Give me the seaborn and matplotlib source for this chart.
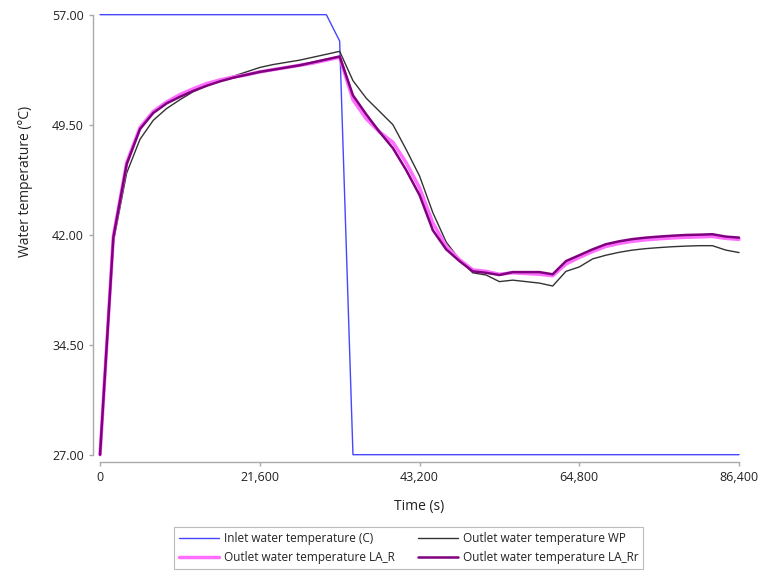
import numpy as np
import pandas as pd
import seaborn as sns
from matplotlib import pyplot as plt
from matplotlib.ticker import FuncFormatter

# time grid of the outlet series (s), one point every half hour
t_out = np.arange(0, 86401, 1800)

# inlet step
t_in = [0, 30600, 32400, 34200, 86400]
inlet = [57.0, 57.0, 55.2, 27.0, 27.0]

wp = [27.0, 41.5, 46.2, 48.5, 49.8, 50.6, 51.2, 51.75, 52.15, 52.5,
      52.8, 53.1, 53.4, 53.6, 53.75, 53.9, 54.1, 54.3, 54.5, 52.5,
      51.3, 50.4, 49.5, 47.8, 46.0, 43.5, 41.5, 40.3, 39.4, 39.25,
      38.8, 38.9, 38.8, 38.7, 38.5, 39.5, 39.8, 40.35, 40.6, 40.8,
      40.95, 41.05, 41.12, 41.18, 41.22, 41.25, 41.25, 40.95, 40.78]

la_r = [27.0, 41.9, 46.9, 49.3, 50.4, 51.05, 51.55, 51.95, 52.3, 52.55,
        52.75, 52.9, 53.1, 53.25, 53.4, 53.55, 53.7, 53.9, 54.1, 51.2,
        49.9, 49.0, 48.3, 46.9, 45.2, 42.8, 41.2, 40.3, 39.6, 39.5,
        39.3, 39.4, 39.35, 39.3, 39.2, 40.0, 40.45, 40.85, 41.2, 41.4,
        41.55, 41.65, 41.72, 41.78, 41.82, 41.85, 41.88, 41.75, 41.68]

la_rr = [27.0, 41.8, 46.8, 49.2, 50.3, 50.95, 51.4, 51.8, 52.15, 52.45,
         52.7, 52.9, 53.1, 53.25, 53.4, 53.55, 53.75, 53.95, 54.15, 51.5,
         50.2, 49.0, 47.9, 46.4, 44.7, 42.3, 41.0, 40.2, 39.5, 39.4,
         39.25, 39.45, 39.45, 39.45, 39.3, 40.2, 40.6, 41.0, 41.35, 41.55,
         41.7, 41.8, 41.87, 41.93, 41.98, 42.0, 42.03, 41.87, 41.8]

sns.set_style("ticks")
plt.rcParams['font.family'] = ['Open Sans', 'DejaVu Sans']
plt.rcParams['text.color'] = '#222222'
plt.rcParams['axes.labelcolor'] = '#222222'
plt.rcParams['xtick.color'] = '#aaaaaa'
plt.rcParams['ytick.color'] = '#aaaaaa'
plt.rcParams['xtick.labelcolor'] = '#222222'
plt.rcParams['ytick.labelcolor'] = '#222222'

fig = plt.figure(figsize=(7.63, 5.71), dpi=100)
ax = fig.add_axes([0.1311, 0.2037, 0.8375, 0.7706])

df_in = pd.DataFrame({'t': t_in, 'T': inlet})
df_out = pd.DataFrame({'t': t_out, 'WP': wp, 'LA_R': la_r, 'LA_Rr': la_rr})

sns.lineplot(x='t', y='T', data=df_in, color='#4646ff', linewidth=1.0, ax=ax,
             label='Inlet water temperature (C)', clip_on=False)
sns.lineplot(x='t', y='WP', data=df_out, color='#333333', linewidth=1.0, ax=ax,
             label='Outlet water temperature WP', clip_on=False)
sns.lineplot(x='t', y='LA_R', data=df_out, color='#ff6eff', linewidth=2.5, ax=ax,
             label='Outlet water temperature LA_R', clip_on=False)
sns.lineplot(x='t', y='LA_Rr', data=df_out, color='#800080', linewidth=1.8, ax=ax,
             label='Outlet water temperature LA_Rr', clip_on=False)

ax.set_xlim(0, 86400)
ax.set_ylim(27, 57)
ax.set_xticks([0, 21600, 43200, 64800, 86400])
ax.set_yticks([27, 34.5, 42, 49.5, 57])
ax.xaxis.set_major_formatter(FuncFormatter(lambda v, p: '{:,.0f}'.format(v)))
ax.yaxis.set_major_formatter(FuncFormatter(lambda v, p: '{:.2f}'.format(v)))
ax.tick_params(labelsize=9, length=3, width=1)
sns.despine(ax=ax, offset=5)
for s in ['left', 'bottom']:
    ax.spines[s].set_color('#aaaaaa')
    ax.spines[s].set_linewidth(1.0)

ax.set_xlabel('Time (s)', fontsize=10, labelpad=11)
ax.set_ylabel('Water temperature (°C)', fontsize=10)
ax.yaxis.set_label_coords(-0.105, 0.62)

ax.get_legend().remove()
h, l = ax.get_legend_handles_labels()
# row-wise order: inlet, WP / LA_R, LA_Rr
order = [0, 2, 1, 3]
leg = fig.legend([h[i] for i in order], [l[i] for i in order],
                 loc='upper left', bbox_to_anchor=(0.228, 0.077),
                 ncol=2, fontsize=8.5, frameon=True, fancybox=False,
                 borderaxespad=0, handlelength=3.4, handletextpad=0.4,
                 columnspacing=2.0, labelspacing=0.55, borderpad=0.4)
leg.get_frame().set_edgecolor('#aaaaaa')
leg.get_frame().set_linewidth(0.8)

fig.savefig('out.png', dpi=100)
